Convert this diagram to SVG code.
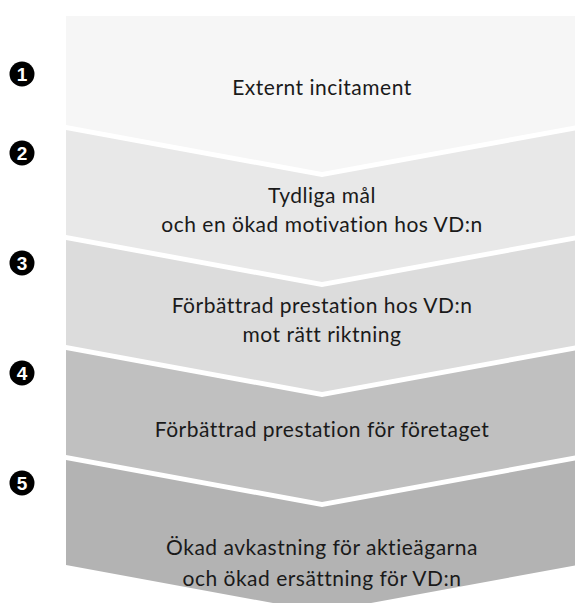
<svg xmlns="http://www.w3.org/2000/svg" width="575" height="603" viewBox="0 0 575 603">
<style>
.lbl{font-family:"Lato","Open Sans","DejaVu Sans",sans-serif;font-size:21px;letter-spacing:0.5px;fill:#1a1a1a;text-anchor:middle}
.num circle{fill:#000}
.num text{font-family:"Liberation Sans",Arial,sans-serif;font-weight:bold;font-size:19px;fill:#fff;text-anchor:middle}
</style>
<rect width="575" height="603" fill="#fff"/>
<g id="band1">
<polygon points="66,16 578,16 578,125 322,172 66,125" fill="#f6f6f6"/>
<text class="lbl" x="322" y="95">Externt incitament</text>
</g>
<g id="band2">
<polygon points="66,130 322,177 578,130 578,235 322,282 66,235" fill="#e8e8e8"/>
<text class="lbl" x="322" y="203">Tydliga mål</text>
<text class="lbl" x="322" y="232">och en ökad motivation hos VD:n</text>
</g>
<g id="band3">
<polygon points="66,240 322,287 578,240 578,345 322,392 66,345" fill="#dcdcdc"/>
<text class="lbl" x="322" y="313">Förbättrad prestation hos VD:n</text>
<text class="lbl" x="322" y="342">mot rätt riktning</text>
</g>
<g id="band4">
<polygon points="66,350 322,397 578,350 578,455 322,502 66,455" fill="#c0c0c0"/>
<text class="lbl" x="322" y="437">Förbättrad prestation för företaget</text>
</g>
<g id="band5">
<polygon points="66,460 322,507 578,460 578,565 322,612 66,565" fill="#b3b3b3"/>
<text class="lbl" x="322" y="555">Ökad avkastning för aktieägarna</text>
<text class="lbl" x="322" y="586">och ökad ersättning för VD:n</text>
</g>
<g id="num1" class="num"><circle cx="22" cy="74" r="12.5"/><text x="22" y="81">1</text></g>
<g id="num2" class="num"><circle cx="22" cy="153" r="12.5"/><text x="22" y="160">2</text></g>
<g id="num3" class="num"><circle cx="22" cy="263" r="12.5"/><text x="22" y="270">3</text></g>
<g id="num4" class="num"><circle cx="22" cy="373" r="12.5"/><text x="22" y="380">4</text></g>
<g id="num5" class="num"><circle cx="22" cy="483" r="12.5"/><text x="22" y="490">5</text></g>
<g id="connectors"/>
</svg>
